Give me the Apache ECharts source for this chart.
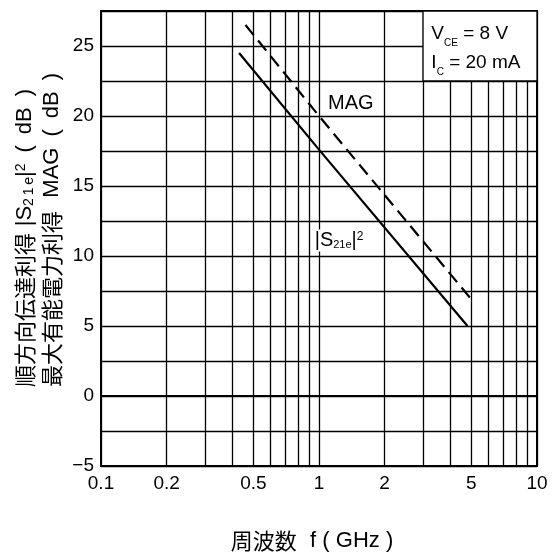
<!DOCTYPE html>
<html>
<head>
<meta charset="utf-8">
<script src="https://cdn.jsdelivr.net/npm/echarts@6/dist/echarts.min.js"></script>
<style>
html,body{margin:0;padding:0;background:#fff;}
#chart{width:559px;height:558px;}
</style>
</head>
<body>
<div id="chart"></div>
<script>
// ---- data ----
const freqS21 = [0.43, 1, 4.8];        // GHz
const gainS21 = [24.5, 17.6, 5.0];     // |S21e|^2 (dB)
const freqMAG = [0.46, 1, 5.0];        // GHz
const gainMAG = [26.5, 20.0, 6.9];     // MAG (dB)
const xLabelValues = [0.1, 0.2, 0.5, 1, 2, 5, 10];
const xGridValues = [0.1, 0.2, 0.3, 0.4, 0.5, 0.6, 0.7, 0.8, 0.9, 1, 2, 3, 4, 5, 6, 7, 8, 9, 10];
const yMin = -5, yMax = 27.5, yStep = 2.5, yLabelStep = 5;
const condBox = [[3, 27.5], [10, 22.5]];
const magLabelPos = [1.40, 20.9];
const s21LabelPos = [1.236, 11.1];

const FONT = '"Liberation Sans", Arial, sans-serif';
const CJK = '"Noto Sans CJK JP", sans-serif';

const chart = echarts.init(document.getElementById('chart'), null, {renderer: 'canvas'});

const option = {
  animation: false,
  backgroundColor: '#fff',
  grid: {left: 101, right: 22, top: 11, bottom: 92, show: true, borderColor: '#000', borderWidth: 2, backgroundColor: 'transparent'},
  xAxis: {
    type: 'log', logBase: 10, min: 0.1, max: 10,
    axisLine: {show: true, lineStyle: {color: '#000', width: 2}},
    axisTick: {show: false, customValues: xGridValues},
    splitLine: {show: true, lineStyle: {color: '#000', width: 1.3}},
    minorSplitLine: {show: false},
    axisLabel: {
      customValues: xLabelValues,
      color: '#000', fontSize: 19, fontFamily: FONT, margin: 8,
      formatter: v => String(+v.toPrecision(3))
    }
  },
  yAxis: {
    type: 'value', min: yMin, max: yMax, interval: yStep,
    axisLine: {show: true, lineStyle: {color: '#000', width: 2}},
    axisTick: {show: false},
    splitLine: {show: true, lineStyle: {color: '#000', width: 1.3}},
    axisLabel: {
      color: '#000', fontSize: 19, fontFamily: FONT, margin: 7,
      formatter: v => (Math.abs(v % yLabelStep) < 1e-9) ? String(v).replace('-', '\u2212') : ''
    }
  },
  series: [
    {
      name: 'box', type: 'line', data: [], z: 3, silent: true,
      markArea: {
        silent: true,
        itemStyle: {color: '#fff', borderColor: '#000', borderWidth: 1.3, opacity: 1},
        label: {
          show: true, position: 'insideTopLeft', distance: 9,
          color: '#000', opacity: 1,
          formatter: '{n|V}{s|CE}{n| = 8 V}\n{n|I}{s|C}{n| = 20 mA}',
          rich: {
            n: {fontSize: 19, fontFamily: FONT, color: '#000', lineHeight: 29},
            s: {fontSize: 10, fontFamily: FONT, color: '#000', lineHeight: 24, verticalAlign: 'bottom'}
          }
        },
        data: [[{coord: condBox[0]}, {coord: condBox[1]}]]
      }
    },
    {
      name: 'S21', type: 'line', z: 4,
      data: freqS21.map((f, i) => [f, gainS21[i]]),
      showSymbol: false, symbol: 'none',
      lineStyle: {color: '#000', width: 2.2, type: 'solid'}
    },
    {
      name: 'MAG', type: 'line', z: 4,
      data: freqMAG.map((f, i) => [f, gainMAG[i]]),
      showSymbol: false, symbol: 'none',
      lineStyle: {color: '#000', width: 2.2, type: [13, 7]}
    }
  ],
  graphic: [
    {
      id: 'ytitle1', type: 'text', x: 25, y: 387, rotation: Math.PI / 2, z: 10,
      style: {
        text: '{c|順方向伝達利得}  {n||S}{s|2\u20091\u2009e}{n||}{p|2}{n|\u2002(\u2002dB\u2002)}',
        align: 'left', verticalAlign: 'middle',
        rich: {
          c: {fontSize: 22, fontFamily: CJK, fill: '#000'},
          n: {fontSize: 22, fontFamily: FONT, fill: '#000'},
          s: {fontSize: 14, fontFamily: FONT, fill: '#000', verticalAlign: 'bottom'},
          p: {fontSize: 14, fontFamily: FONT, fill: '#000', verticalAlign: 'top'}
        }
      }
    },
    {
      id: 'ytitle2', type: 'text', x: 52, y: 387, rotation: Math.PI / 2, z: 10,
      style: {
        text: '{c|最大有能電力利得}    {n|MAG\u2002(\u2002dB\u2002)}',
        align: 'left', verticalAlign: 'middle',
        rich: {
          c: {fontSize: 22, fontFamily: CJK, fill: '#000'},
          n: {fontSize: 22, fontFamily: FONT, fill: '#000'}
        }
      }
    },
    {
      id: 'xtitle', type: 'text', x: 312, y: 541, z: 10,
      style: {
        text: '{c|周波数}    {n|f ( GHz )}',
        align: 'center', verticalAlign: 'middle',
        rich: {
          c: {fontSize: 22, fontFamily: CJK, fill: '#000'},
          n: {fontSize: 22, fontFamily: FONT, fill: '#000'}
        }
      }
    }
  ]
};
chart.setOption(option);

// annotation labels anchored at data coordinates
const magPx = chart.convertToPixel({gridIndex: 0}, magLabelPos);
const s21Px = chart.convertToPixel({gridIndex: 0}, s21LabelPos);
chart.setOption({
  graphic: [
    {
      id: 'magLabel', type: 'text', x: magPx[0], y: magPx[1], z: 10,
      style: {text: 'MAG', fill: '#000', fontSize: 20, fontFamily: FONT, align: 'center', verticalAlign: 'middle'}
    },
    {
      id: 's21Label', type: 'text', x: s21Px[0], y: s21Px[1], z: 10,
      style: {
        text: '{n||S}{s|21e}{n||}{p|2}',
        align: 'center', verticalAlign: 'middle',
        backgroundColor: '#fff', padding: [1, 1, 1, 1],
        rich: {
          n: {fontSize: 20, fontFamily: FONT, fill: '#000'},
          s: {fontSize: 11, fontFamily: FONT, fill: '#000', verticalAlign: 'bottom'},
          p: {fontSize: 12, fontFamily: FONT, fill: '#000', verticalAlign: 'top'}
        }
      }
    }
  ]
});
</script>
</body>
</html>
